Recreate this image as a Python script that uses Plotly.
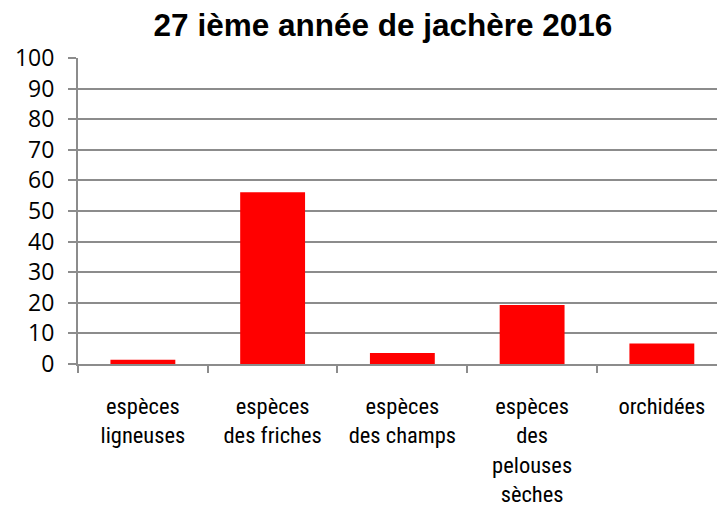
import plotly.graph_objects as go

categories = ["espèces<br>ligneuses", "espèces<br>des friches", "espèces<br>des champs",
              "espèces<br>des<br>pelouses<br>sèches", "orchidées"]
values = [1.4, 56.1, 3.6, 19.3, 6.7]
y_ticks = list(range(0, 101, 10))

fig = go.Figure(go.Bar(x=categories, y=values, marker=dict(color="#ff0000", line=dict(width=0)),
                       width=0.5))

axis_col = "#8c8c8c"
fig.update_layout(
    width=717, height=508,
    margin=dict(l=78, r=0, t=58, b=144, pad=0, autoexpand=False),
    paper_bgcolor="white", plot_bgcolor="white",
    showlegend=False,
    title=dict(text="<b>27 ième année de jachère 2016</b>", x=383 / 717, xanchor="center",
               y=1 - 25 / 508, yanchor="middle", automargin=False,
               font=dict(family="Liberation Sans, Arial", size=31.5, color="black")),
    xaxis=dict(type="category", range=[-0.5, 4.425], showgrid=False, automargin=False,
               showline=True, linecolor=axis_col, linewidth=2,
               ticks="outside", tickson="boundaries", ticklen=7, tickcolor=axis_col, tickwidth=2,
               ticklabelstandoff=21,
               tickfont=dict(family="Liberation Sans Narrow, Roboto Condensed, Roboto", size=22.5, color="black")),
    yaxis=dict(range=[0, 100], tickvals=y_ticks, showgrid=True, gridcolor=axis_col, gridwidth=2,
               showline=True, linecolor=axis_col, linewidth=2, zeroline=False, automargin=False,
               ticks="outside", ticklen=8, tickcolor=axis_col, tickwidth=2,
               ticklabelstandoff=9,
               tickfont=dict(family="Open Sans", size=23, color="black")),
)
fig.write_html("out.html", config={"displayModeBar": False},
               post_script="document.body.style.margin='0';")
